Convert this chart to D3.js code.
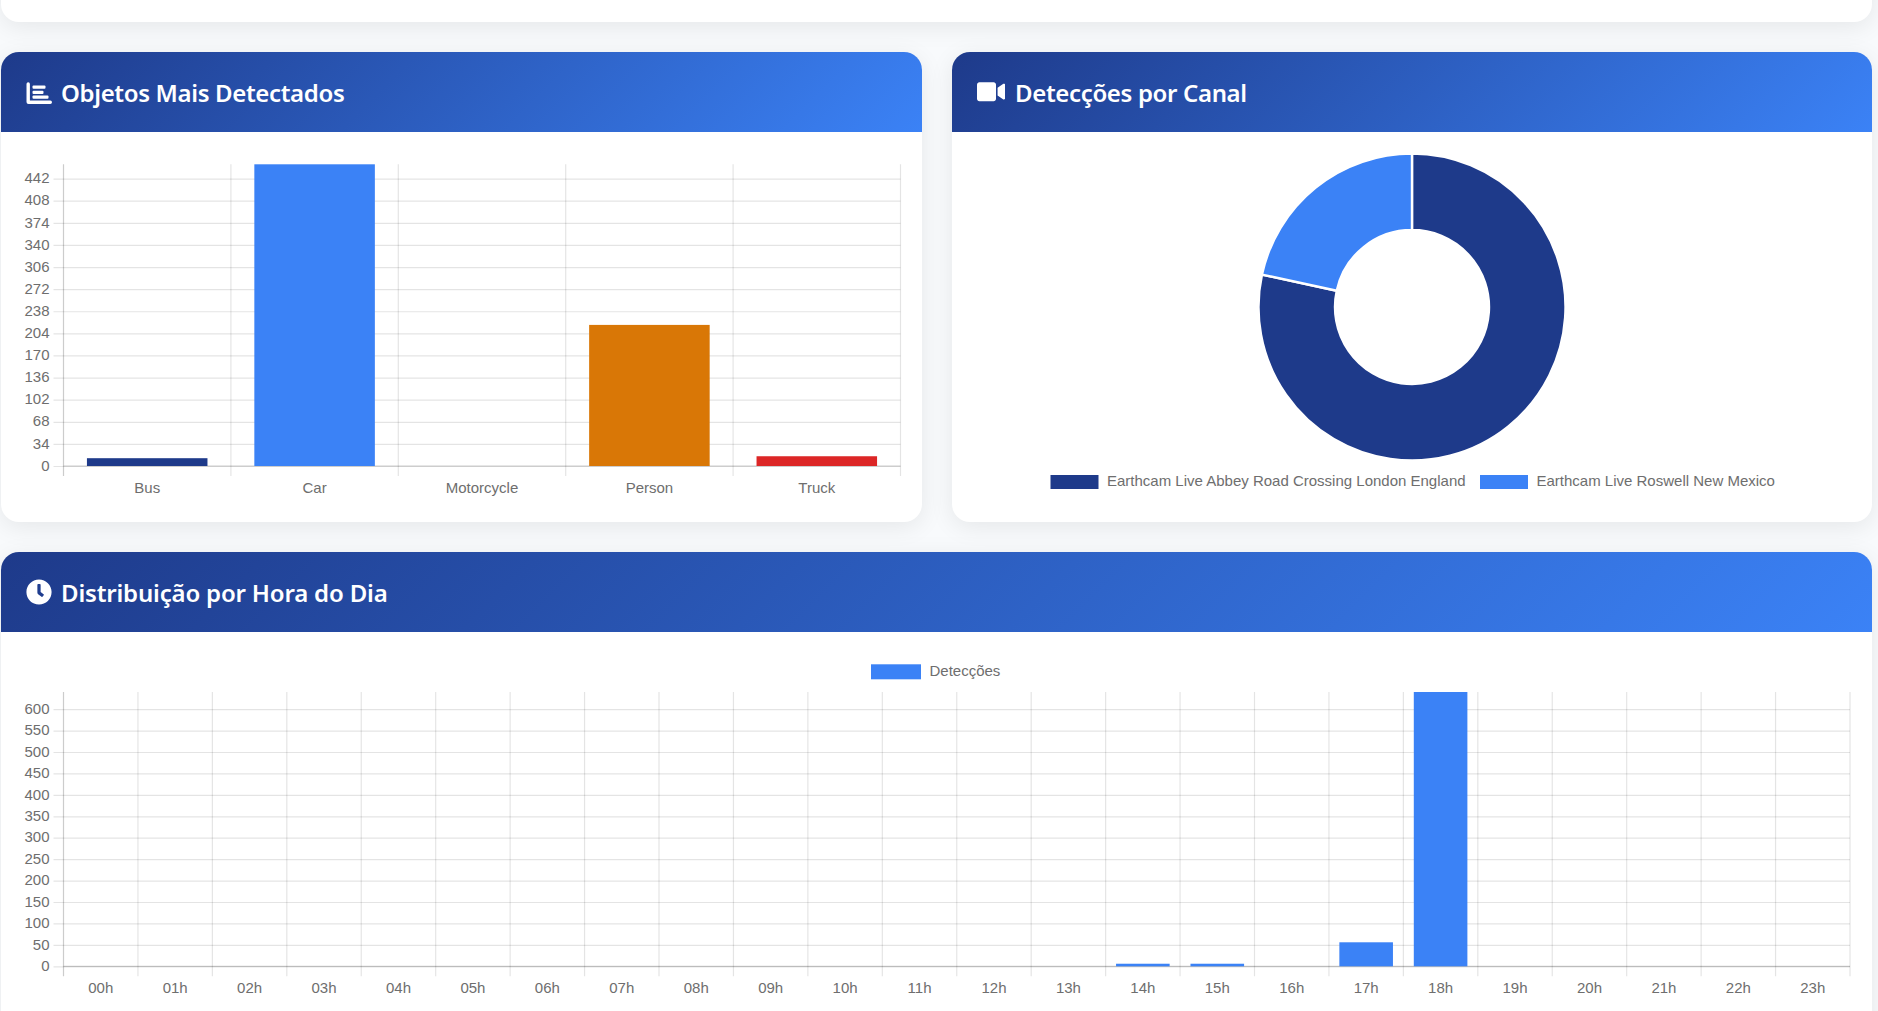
<!DOCTYPE html>
<html><head><meta charset="utf-8">
<script src="https://cdn.jsdelivr.net/npm/d3@7"></script>
<style>
html,body{margin:0;padding:0;width:1878px;height:1011px;overflow:hidden;background:#f8fafc;}
.card{position:absolute;background:#fff;border-radius:18px;box-shadow:0 5px 24px rgba(0,0,0,.08);overflow:hidden;}
.head{position:absolute;left:0;top:0;right:0;height:80px;background:linear-gradient(135deg,#1e3a8a,#3b82f6);color:#fff;}
.head span{position:absolute;left:60px;top:1px;font:600 24px/80px "Noto Sans",sans-serif;white-space:nowrap;letter-spacing:-.35px}
.head svg{position:absolute;fill:#fff}
#chart{position:absolute;left:0;top:0}
#chart text{font-family:"Liberation Sans",Arial,sans-serif;font-size:15px;fill:#6e6e6e}
</style></head><body>
<div class="card" style="left:1px;top:-60px;width:1871px;height:82px"></div>
<div class="card" style="left:1px;top:52px;width:921px;height:470px"><div class="head">
<svg style="left:25px;top:29.5px" width="26" height="23" viewBox="0 0 26 23"><path d="M0.5 2a1.7 1.7 0 0 1 3.4 0V18.6h20.4a1.7 1.7 0 0 1 0 3.4H2.5A2 2 0 0 1 .5 20Z"/><rect x="6.5" y="3.5" width="13" height="3.2" rx="1"/><rect x="6.5" y="8.7" width="11" height="3.2" rx="1"/><rect x="6.5" y="13.6" width="16" height="3.2" rx="1"/></svg>
<span>Objetos Mais Detectados</span></div></div>
<div class="card" style="left:952px;top:52px;width:920px;height:470px"><div class="head">
<svg style="left:24.5px;top:27px" width="28.5" height="25.3" viewBox="0 0 576 512"><path d="M336.2 64H47.8C21.4 64 0 85.4 0 111.8v288.4C0 426.6 21.4 448 47.8 448h288.4c26.4 0 47.8-21.4 47.8-47.8V111.8c0-26.4-21.4-47.8-47.8-47.8zm189.4 37.7L416 177.3v157.4l109.6 75.5c21.2 14.6 50.4-.3 50.4-25.8V127.5c0-25.4-29.1-40.4-50.4-25.8z"/></svg>
<span style="left:63px">Detecções por Canal</span></div></div>
<div class="card" style="left:1px;top:552px;width:1871px;height:520px"><div class="head">
<svg style="left:25px;top:27px" width="26" height="26" viewBox="0 0 512 512"><path d="M256,8C119,8,8,119,8,256S119,504,256,504,504,393,504,256,393,8,256,8Zm92.49,313h0l-20,25a16,16,0,0,1-22.49,2.5h0l-67-49.72a40,40,0,0,1-15-31.23V112a16,16,0,0,1,16-16h32a16,16,0,0,1,16,16V256l58,42.5A16,16,0,0,1,348.49,321Z"/></svg>
<span style="letter-spacing:-.18px">Distribuição por Hora do Dia</span></div></div>
<svg id="chart" width="1878" height="1011"></svg>
<script>
// ---- data ----
const objectLabels = ["Bus","Car","Motorcycle","Person","Truck"];
const objectValues = [12,464,0,217,15];
const objectColors = ["#1e3a8a","#3b82f6","#059669","#d97706","#dc2626"];
const objectTicks = [0,34,68,102,136,170,204,238,272,306,340,374,408,442];

const channelLabels = ["Earthcam Live Abbey Road Crossing London England","Earthcam Live Roswell New Mexico"];
const channelValues = [555,153];
const channelColors = ["#1e3a8a","#3b82f6"];

const hourLabels = ["00h","01h","02h","03h","04h","05h","06h","07h","08h","09h","10h","11h","12h","13h","14h","15h","16h","17h","18h","19h","20h","21h","22h","23h"];
const hourValues = [0,0,0,0,0,0,0,0,0,0,0,0,0,0,6,6,0,56,640,0,0,0,0,0];
const hourTicks = [0,50,100,150,200,250,300,350,400,450,500,550,600];
const hourSeries = "Detecções";

// ---- drawing ----
const svg = d3.select("#chart");
const GRID = "rgba(0,0,0,0.105)", AXIS = "rgba(0,0,0,0.2)";

function barChart(o){
  const g = svg.append("g");
  const x = d3.scaleBand().domain(o.labels).range([o.x0,o.x1]).paddingInner(.28).paddingOuter(.14);
  const xEdge = d3.scaleLinear().domain([0,o.labels.length]).range([o.x0,o.x1]);
  const y = d3.scaleLinear().domain([0,o.max]).range([o.base,o.top]);
  const ya = g.append("g").attr("transform",`translate(${o.x0},0)`)
    .call(d3.axisLeft(y).tickValues(o.ticks).tickSizeInner(10).tickSizeOuter(0).tickPadding(4));
  ya.select(".domain").remove();
  ya.selectAll(".tick line").attr("stroke",GRID).attr("stroke-width",1.2).attr("x2",o.x1-o.x0).attr("x1",-10);
  ya.selectAll(".tick text").attr("dy",".28em");
  g.append("g").selectAll("line").data(d3.range(o.labels.length+1)).join("line")
    .attr("x1",d=>xEdge(d)).attr("x2",d=>xEdge(d)).attr("y1",o.top).attr("y2",o.base+10)
    .attr("stroke",d=>d===0?AXIS:GRID).attr("stroke-width",1.2);
  g.append("line").attr("x1",o.x0).attr("x2",o.x1).attr("y1",o.base).attr("y2",o.base)
    .attr("stroke",AXIS).attr("stroke-width",1.2);
  const xa = g.append("g").attr("transform",`translate(0,${o.base})`)
    .call(d3.axisBottom(x).tickSize(0).tickPadding(16));
  xa.select(".domain").remove();
  g.append("g").selectAll("rect").data(o.values).join("rect")
    .attr("x",(d,i)=>x(o.labels[i])).attr("width",x.bandwidth())
    .attr("y",d=>y(d)).attr("height",d=>o.base-y(d))
    .attr("fill",(d,i)=>o.colors?o.colors[i]:"#3b82f6");
}

barChart({labels:objectLabels,values:objectValues,colors:objectColors,ticks:objectTicks,
  max:464,x0:63.5,x1:900.5,top:164.3,base:466});
barChart({labels:hourLabels,values:hourValues,ticks:hourTicks,
  max:640,x0:63.5,x1:1850,top:692,base:966.3});

// donut
const pie = d3.pie().sort(null)(channelValues);
const arc = d3.arc().innerRadius(77).outerRadius(153.5);
svg.append("g").attr("transform","translate(1412,307)")
  .selectAll("path").data(pie).join("path").attr("d",arc)
  .attr("fill",(d,i)=>channelColors[i]).attr("stroke","#fff").attr("stroke-width",2.4);

// legends
function legend(items,colors,xs,y,w,h){
  const g = svg.append("g");
  items.forEach((t,i)=>{
    g.append("rect").attr("x",xs[i]).attr("y",y-h/2).attr("width",w).attr("height",h).attr("fill",colors[i]);
    g.append("text").attr("x",xs[i]+w+8.5).attr("y",y-.8).attr("dy",".35em").text(t);
  });
}
legend(channelLabels,channelColors,[1050.5,1480],482,48,14);
legend([hourSeries],["#3b82f6"],[871],671.8,50,15);
</script>
</body></html>
